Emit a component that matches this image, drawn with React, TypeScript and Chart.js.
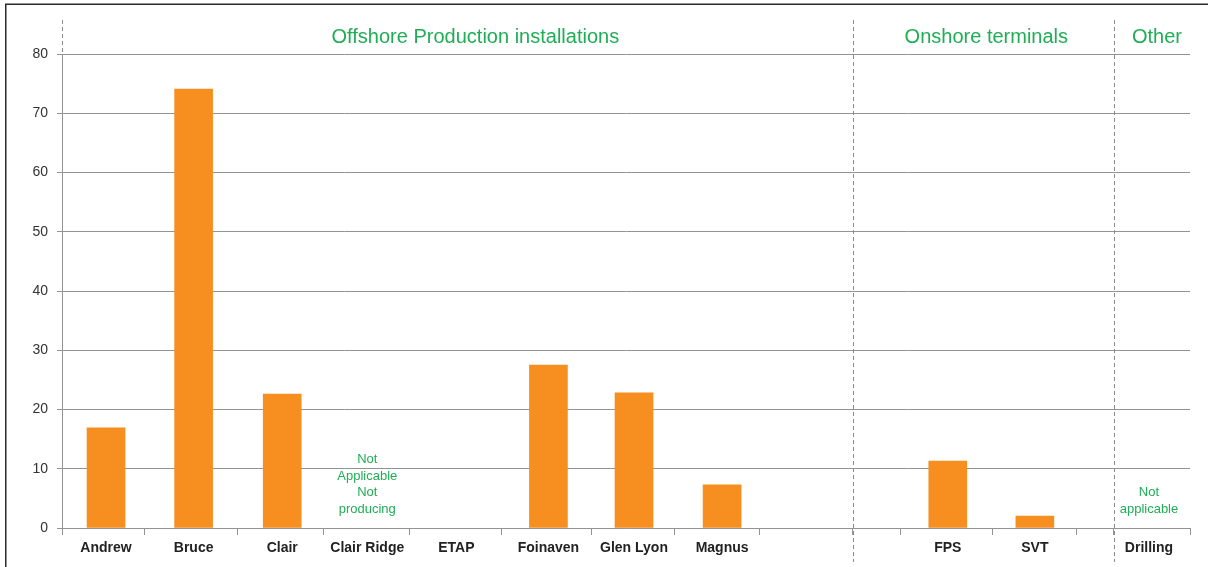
import React, { useEffect, useRef } from "react";
import { Chart, registerables } from "chart.js";

Chart.register(...registerables);

// ---- data ----
const categories = [
  "Andrew", "Bruce", "Clair", "Clair Ridge", "ETAP", "Foinaven", "Glen Lyon", "Magnus",
  "", "", "FPS", "SVT", "", "Drilling",
];
const values: (number | null)[] = [
  16.9, 74.1, 22.6, null, null, 27.5, 22.8, 7.3,
  null, null, 11.3, 2.0, null, null,
];
const groupNames = ["Offshore Production installations", "Onshore terminals", "Other"];
const groupFirstSlot = [0, 9, 13];
const notes = [
  { category: "Clair Ridge", lines: ["Not", "Applicable", "Not", "producing"] },
  { category: "Drilling", lines: ["Not", "applicable"] },
];
const yTicks = [0, 10, 20, 30, 40, 50, 60, 70, 80];

// ---- layout (not data) ----
const slotWidths = [82, 93, 86, 86, 92, 90, 83, 85, 93, 48, 92, 84, 37, 76];
const slotCenterShift = [3, 3, 2, 1, 1, 2, 1, 5, 0, 0, 1, 0, 0, -3];
const headerShift = [18, 3, 5];
const FONT = '"Liberation Sans", Arial, sans-serif';
const GREEN = "#1fae55";
const ORANGE = "#f68f1f";
const GRID = "#939393";

const boundaries: number[] = [0];
slotWidths.forEach((w, i) => boundaries.push(boundaries[i] + w));
const centers = slotWidths.map((w, i) => boundaries[i] + w / 2 + slotCenterShift[i]);
const total = boundaries[boundaries.length - 1];

const labelAt = new Map<number, string>();
categories.forEach((c, i) => { if (c) labelAt.set(centers[i], c); });
const boundarySet = new Set(boundaries);
const xTickValues = Array.from(new Set([...boundaries, ...Array.from(labelAt.keys())])).sort((a, b) => a - b);

const points = categories
  .map((c, i) => ({ x: centers[i], y: values[i] }))
  .filter((p) => p.y !== null) as { x: number; y: number }[];

const align = (p: number) => Math.round(p) + 0.5;

const overlay = {
  id: "overlay",
  afterDraw(chart: any) {
    const { ctx, chartArea } = chart;
    const xs = chart.scales.x;
    ctx.save();
    // frame
    ctx.strokeStyle = "#2a2a2a";
    ctx.lineWidth = 1.5;
    ctx.beginPath();
    ctx.moveTo(5.75, 567);
    ctx.lineTo(5.75, 4.25);
    ctx.lineTo(1208, 4.25);
    ctx.stroke();

    // dashed separators
    ctx.setLineDash([4, 3]);
    ctx.strokeStyle = "#8c8c8c";
    ctx.lineWidth = 1;
    const x0 = align(xs.getPixelForValue(0));
    ctx.beginPath();
    ctx.moveTo(x0, 20);
    ctx.lineTo(x0, chartArea.top);
    ctx.stroke();
    groupFirstSlot.slice(1).forEach((s) => {
      const x = align(xs.getPixelForValue(boundaries[s]));
      ctx.beginPath();
      ctx.moveTo(x, 20);
      ctx.lineTo(x, 562);
      ctx.stroke();
    });
    ctx.setLineDash([]);

    // group headers
    ctx.fillStyle = GREEN;
    ctx.font = `20px ${FONT}`;
    ctx.textAlign = "center";
    ctx.textBaseline = "middle";
    groupNames.forEach((g, i) => {
      const a = boundaries[groupFirstSlot[i]];
      const b = i + 1 < groupFirstSlot.length ? boundaries[groupFirstSlot[i + 1]] : total;
      const x = xs.getPixelForValue((a + b) / 2) + headerShift[i];
      ctx.fillText(g, x, 37);
    });

    // notes
    ctx.font = `13px ${FONT}`;
    notes.forEach((n) => {
      const idx = categories.indexOf(n.category);
      const x = xs.getPixelForValue(centers[idx]);
      const k = n.lines.length;
      n.lines.forEach((line, i) => {
        ctx.fillText(line, x, chartArea.bottom - 19 - (k - 1 - i) * 16.5);
      });
    });
    ctx.restore();
  },
};

export default function App() {
  const ref = useRef<HTMLCanvasElement>(null);
  useEffect(() => {
    document.body.style.margin = "0";
    const chart = new Chart(ref.current as HTMLCanvasElement, {
      type: "bar",
      data: {
        datasets: [
          {
            data: points as any,
            backgroundColor: ORANGE,
            borderWidth: 0,
            barThickness: 38,
          },
        ],
      },
      options: {
        animation: false,
        responsive: false,
        layout: { padding: { top: 54, right: 18, left: 0, bottom: 0 } },
        plugins: { legend: { display: false }, tooltip: { enabled: false } },
        scales: {
          x: {
            type: "linear",
            min: 0,
            max: total,
            offset: false,
            afterBuildTicks: (scale: any) => {
              scale.ticks = xTickValues.map((v) => ({ value: v }));
            },
            afterFit: (scale: any) => {
              scale.height = 39;
            },
            grid: {
              offset: false,
              drawOnChartArea: false,
              drawTicks: true,
              tickLength: 7,
              tickColor: (c: any) => (c.tick && boundarySet.has(c.tick.value) ? GRID : "rgba(0,0,0,0)"),
            },
            border: { display: true, color: GRID, width: 1 },
            ticks: {
              autoSkip: false,
              maxRotation: 0,
              minRotation: 0,
              padding: 5,
              color: "#222",
              font: { family: FONT, size: 14, weight: "bold" },
              callback: (v: any) => labelAt.get(Number(v)) ?? "",
            },
          },
          y: {
            min: 0,
            max: 80,
            afterBuildTicks: (scale: any) => {
              scale.ticks = yTicks.map((v) => ({ value: v }));
            },
            afterFit: (scale: any) => {
              scale.width = 62;
            },
            grid: { color: GRID, tickLength: 5, tickColor: GRID },
            border: { display: true, color: GRID, width: 1 },
            ticks: {
              padding: 9,
              color: "#333",
              font: { family: FONT, size: 14 },
            },
          },
        },
      },
      plugins: [overlay],
    } as any);
    return () => chart.destroy();
  }, []);
  return (
    <div style={{ position: "absolute", left: 0, top: 0, width: 1208, height: 567 }}>
      <canvas ref={ref} width={1208} height={567} />
    </div>
  );
}
